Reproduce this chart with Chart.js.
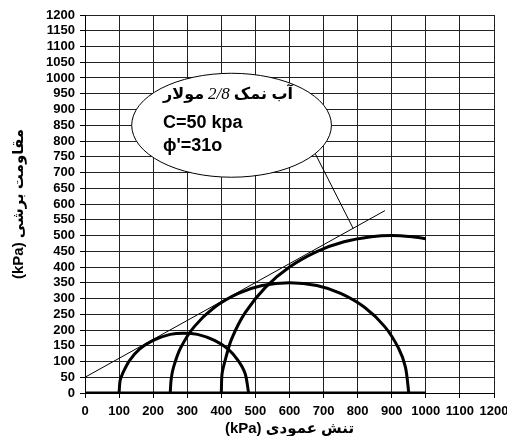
<!DOCTYPE html>
<html>
<head>
<meta charset="utf-8">
<script src="https://cdn.jsdelivr.net/npm/chart.js@4"></script>
<style>
  html, body { margin: 0; padding: 0; background: #fff; }
  canvas { display: block; }
</style>
</head>
<body>
<canvas id="mohr-chart" width="507" height="436"></canvas>
<script>
// Mohr circles (kPa)
const circle1X = [100, 103, 110, 130, 160, 200, 250, 290, 330, 380, 420, 450, 470, 480];
const circle1Y = [0, 40, 61, 102, 139, 167, 186, 190, 186, 167, 139, 102, 61, 0];
const circle2X = [250, 253, 260, 280, 320, 380, 450, 520, 600, 680, 750, 820, 880, 920, 940, 950];
const circle2Y = [0, 45, 83, 142, 210, 272, 316, 341, 350, 341, 316, 272, 210, 142, 83, 0];
const circle3X = [400, 402, 410, 430, 470, 530, 600, 680, 760, 840, 900, 960, 1000];
const circle3Y = [0, 60, 99, 171, 255, 336, 400, 449, 480, 496, 500, 496, 490];
const baseX = [0, 1000];
const baseY = [0, 0];
// failure envelope: C = 50 kPa, phi' = 31
const envelopeX = [0, 880];
const envelopeY = [50, 579];

const xTicks = { min: 0, max: 1200, step: 100 };
const yTicks = { min: 0, max: 1200, step: 50 };

const noteLines = ['آب نمک', '2/8', 'مولار', 'C=50 kpa', "ϕ'=31ο"];

const FONT = '"Liberation Sans", "DejaVu Sans", Arial, sans-serif';

function pts(xs, ys) {
  return xs.map((x, i) => ({ x: x, y: ys[i] }));
}

// callout bubble drawn in data coordinates
const calloutPlugin = {
  id: 'callout',
  afterDatasetsDraw(chart) {
    const { ctx, scales: { x, y } } = chart;
    const cx = x.getPixelForValue(430), cy = y.getPixelForValue(850);
    const rx = x.getPixelForValue(430 + 293) - cx;
    const ry = cy - y.getPixelForValue(850 + 165);
    ctx.save();
    // pointer to the envelope
    ctx.beginPath();
    ctx.strokeStyle = '#000';
    ctx.lineWidth = 1;
    ctx.moveTo(x.getPixelForValue(675), y.getPixelForValue(761));
    ctx.lineTo(x.getPixelForValue(787), y.getPixelForValue(522));
    ctx.stroke();
    ctx.beginPath();
    ctx.ellipse(cx, cy, rx, ry, 0, 0, Math.PI * 2);
    ctx.fillStyle = '#fff';
    ctx.fill();
    ctx.stroke();

    const left = x.getPixelForValue(229);
    ctx.fillStyle = '#000';
    ctx.textBaseline = 'middle';
    ctx.textAlign = 'left';
    // first line: RTL, drawn in pieces, left to right
    let px = left;
    const r1 = y.getPixelForValue(946);
    ctx.font = 'bold 16px ' + FONT;
    ctx.fillText(noteLines[2], px, r1);
    px += ctx.measureText(noteLines[2]).width + 4;
    ctx.font = 'italic 17px "Liberation Serif", "DejaVu Serif", serif';
    ctx.fillText(noteLines[1], px, r1);
    px += ctx.measureText(noteLines[1]).width + 4;
    ctx.font = 'bold 16px ' + FONT;
    ctx.fillText(noteLines[0], px, r1);

    ctx.font = 'bold 18px ' + FONT;
    ctx.fillText(noteLines[3], left, y.getPixelForValue(857));
    ctx.fillText(noteLines[4], left, y.getPixelForValue(784));
    ctx.restore();
  }
};

const thick = { showLine: true, pointRadius: 0, borderColor: '#000', borderWidth: 3, tension: 0.3, fill: false };

new Chart(document.getElementById('mohr-chart'), {
  type: 'scatter',
  data: {
    datasets: [
      Object.assign({ label: 'base', data: pts(baseX, baseY) }, thick, { tension: 0 }),
      Object.assign({ label: 'circle 1', data: pts(circle1X, circle1Y) }, thick),
      Object.assign({ label: 'circle 2', data: pts(circle2X, circle2Y) }, thick),
      Object.assign({ label: 'circle 3', data: pts(circle3X, circle3Y) }, thick),
      { label: 'envelope', data: pts(envelopeX, envelopeY), showLine: true, pointRadius: 0,
        borderColor: '#000', borderWidth: 1, fill: false }
    ]
  },
  plugins: [calloutPlugin],
  options: {
    responsive: false,
    animation: false,
    devicePixelRatio: 1,
    layout: { padding: { top: 15, right: 13, bottom: 0, left: 0 } },
    plugins: { legend: { display: false }, tooltip: { enabled: false }, title: { display: false } },
    scales: {
      x: {
        type: 'linear',
        min: xTicks.min, max: xTicks.max,
        ticks: { stepSize: xTicks.step, color: '#000', padding: 6, maxRotation: 0, autoSkip: false,
                 callback: v => String(v),
                 font: { family: FONT, size: 13, weight: 'bold' } },
        grid: { color: '#222', lineWidth: 1, tickLength: 5, tickColor: '#000' },
        border: { color: '#000', width: 1 },
        title: { display: true, text: '(kPa) تنش عمودی', color: '#000',
                 padding: { top: 0, bottom: 0 },
                 font: { family: FONT, size: 15, weight: 'bold', lineHeight: 1 } },
        afterFit(s) { s.height = 43; s.paddingLeft = 0; s.paddingRight = 0; }
      },
      y: {
        type: 'linear',
        min: yTicks.min, max: yTicks.max,
        ticks: { stepSize: yTicks.step, color: '#000', padding: 5, autoSkip: false,
                 callback: v => String(v),
                 font: { family: FONT, size: 13, weight: 'bold' } },
        grid: { color: '#222', lineWidth: 1, tickLength: 5, tickColor: '#000' },
        border: { color: '#000', width: 1 },
        title: { display: true, text: '(kPa) مقاومت برشی', color: '#000',
                 padding: { top: 10, bottom: 0 },
                 font: { family: FONT, size: 15, weight: 'bold', lineHeight: 1.2 } },
        afterFit(s) { s.width = 85; s.paddingTop = 0; s.paddingBottom = 0; }
      }
    }
  }
});
</script>
</body>
</html>
